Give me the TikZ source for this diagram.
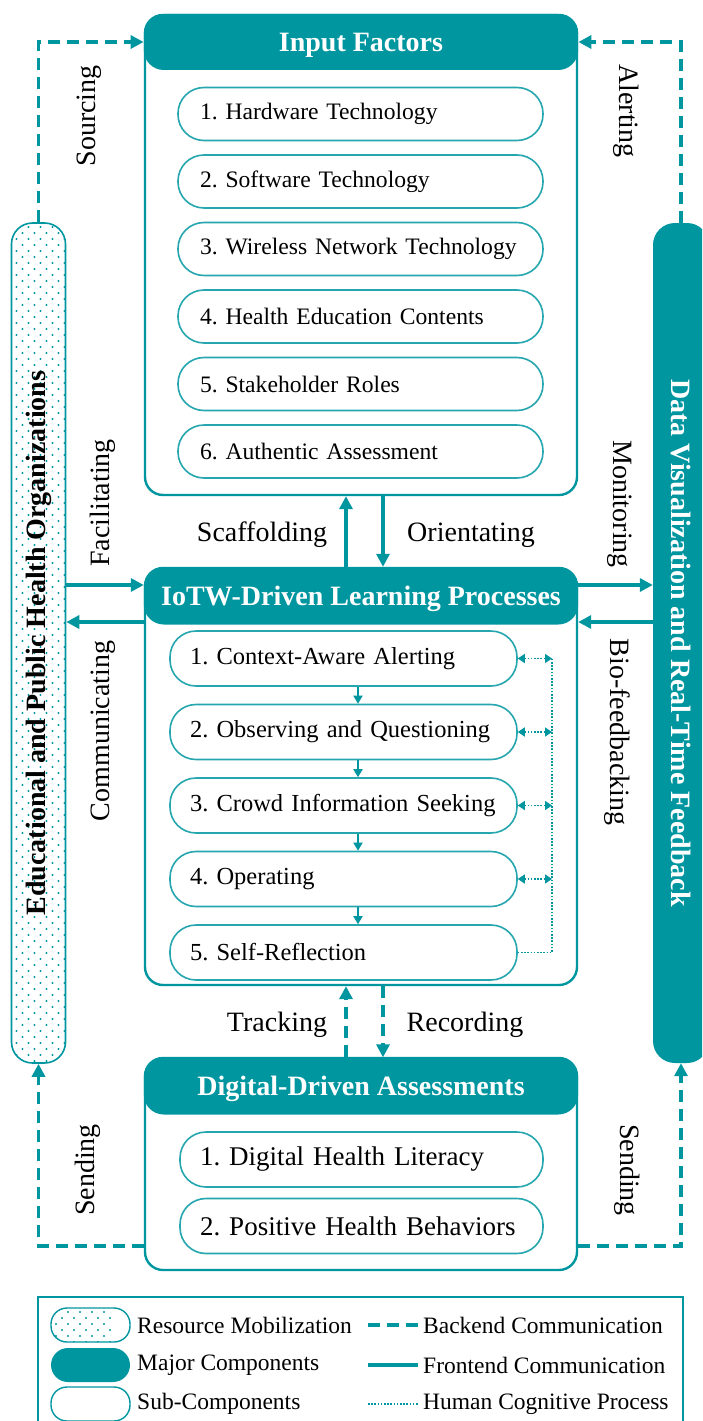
\documentclass[tikz,border=0pt]{standalone}
\usepackage{fontspec}
\setmainfont{Liberation Serif}
\usepackage{graphicx}
\usetikzlibrary{arrows.meta,calc}
\definecolor{tealA}{RGB}{0,150,160}
\newcommand{\sizept}[1]{\fontsize{#1}{#1}\selectfont}
\frenchspacing

\begin{document}
\begin{tikzpicture}[x=1pt,y=-1pt,
  majorbox/.style={draw=tealA, line width=2.4pt, fill=white, rounded corners=18pt, inner sep=0pt, minimum width=432pt},
  headbar/.style={fill=tealA, rounded corners=20pt, inner sep=0pt, minimum width=434.4pt, text=white,
                  text height=20pt, text depth=1pt, font=\sizept{28}\bfseries},
  subbox/.style={draw=tealA!85, line width=1.6pt, fill=white, rounded corners=26pt, inner ysep=0pt, align=left},
  lbl/.style={inner sep=0pt, font=\sizept{28}},
  legtext/.style={inner sep=0pt, anchor=west, font=\sizept{23.5}},
  bigtip/.style={-{Triangle[length=13pt,width=13pt]}},
  frontline/.style={draw=tealA, line width=3.6pt},
  backline/.style={draw=tealA, line width=3.6pt, dash pattern=on 12pt off 7pt},
  cogline/.style={draw=tealA, line width=1.6pt, dash pattern=on 1.6pt off 1.6pt},
  cogtips/.style={{Triangle[length=7pt,width=9pt]}-{Triangle[length=7pt,width=9pt]}},
  steptip/.style={draw=tealA, line width=1.8pt, -{Triangle[length=8pt,width=9pt]}},
  dotfill/.style={path picture={
    \foreach \r in {0,...,140}{
      \pgfmathsetmacro{\off}{mod(\r,2)*6}
      \foreach \c in {0,...,4}{
        \fill[tealA] ($(path picture bounding box.north west)+(\c*12+5+\off,\r*6+4)$) circle (1.1pt);
      }}}},
]
\useasboundingbox (0,0) rectangle (702,1421);
\clip (0,0) rectangle (702,1421);

% helper rows and columns for the connectors
\coordinate (colA) at (346,0);
\coordinate (colB) at (383,0);
\coordinate (colC) at (358,0);
\coordinate (colD) at (552,0);
\coordinate (rowF) at (0,585);
\coordinate (rowC) at (0,622);
\coordinate (rowS) at (0,1246);

% side pillars
\node[draw=tealA, line width=1.6pt, fill=white, rounded corners=21pt, minimum width=54pt,
      minimum height=840pt, inner sep=0pt, dotfill] (org) at (38.5,643)
      {\rotatebox{90}{\sizept{28}\bfseries Educational and Public Health Organizations}};
\node[fill=tealA, rounded corners=22pt, minimum width=56pt, minimum height=840pt,
      inner sep=0pt, text=white] (viz) at (681,643)
      {\rotatebox{-90}{\sizept{28}\bfseries Data Visualization and Real-Time Feedback}};

% input factors
\node[majorbox, minimum height=480pt] (inbox) at (361,255) {};
\node[headbar, minimum height=56pt] (inhead) at (361,42) {Input Factors};
\foreach \t [count=\i] in {1. Hardware Technology, 2. Software Technology,
    3. Wireless Network Technology, 4. Health Education Contents,
    5. Stakeholder Roles, 6. Authentic Assessment}
  \node[subbox, minimum height=53pt, inner xsep=22pt, text width=321pt, font=\sizept{23.6}]
    (in\i) at (360.5,{114+(\i-1)*67.5}) {\mbox{\t}};

% learning processes
\node[majorbox, minimum height=417pt] (mid) at (361,776.5) {};
\node[headbar, minimum height=57pt] (midhead) at (361,596) {IoTW-Driven Learning Processes};
\foreach \t [count=\i] in {1. Context-Aware Alerting, 2. Observing and Questioning,
    3. Crowd Information Seeking, 4. Operating, 5. Self-Reflection}
  \node[subbox, minimum height=55pt, inner xsep=20pt, text width=307pt, font=\sizept{24.5}]
    (lp\i) at (343.5,{658.5+(\i-1)*73.5}) {\mbox{\t}};

% assessments
\node[majorbox, minimum height=212pt] (bot) at (361,1164) {};
\node[headbar, minimum height=57pt] (bothead) at (361,1086) {Digital-Driven Assessments};
\node[subbox, minimum height=55pt, inner xsep=20pt, text width=323pt, font=\sizept{27}]
  (da1) at (361.5,1159.5) {\mbox{1. Digital Health Literacy}};
\node[subbox, minimum height=55pt, inner xsep=20pt, text width=323pt, font=\sizept{27}]
  (da2) at (361.5,1226) {\mbox{2. Positive Health Behaviors}};

% frontend connectors
\draw[frontline, bigtip] (mid.north -| colA) -- (inbox.south -| colA);
\draw[frontline, bigtip] (inbox.south -| colB) -- (mid.north -| colB);
\draw[frontline, bigtip] (org.east |- rowF) -- (mid.west |- rowF);
\draw[frontline, bigtip] (mid.west |- rowC) -- (org.east |- rowC);
\draw[frontline, bigtip] (mid.east |- rowF) -- (viz.west |- rowF);
\draw[frontline, bigtip] (viz.west |- rowC) -- (mid.east |- rowC);

% backend connectors
\draw[backline, bigtip] (org.north) |- (inhead.west);
\draw[backline, bigtip] (viz.north) |- (inhead.east);
\draw[backline, bigtip] (bothead.north -| colA) -- (mid.south -| colA);
\draw[backline, bigtip] (mid.south -| colB) -- (bothead.north -| colB);
\draw[backline, bigtip] (bot.west |- rowS) -| (org.south);
\draw[backline, bigtip] (bot.east |- rowS) -| (viz.south);

% learning steps
\foreach \i/\j in {1/2,2/3,3/4,4/5}
  \draw[steptip] (lp\i.south -| colC) -- (lp\j.north -| colC);

% reflection loop
\foreach \i in {1,...,4}
  \draw[cogline, cogtips] (lp\i.east) -- (lp\i.east -| colD);
\draw[cogline] (lp5.east) -| (lp1.east -| colD);

% connector labels
\node[lbl, rotate=90] (tSourcing) at (89,116) {Sourcing};
\node[lbl, rotate=-90] (tAlerting) at (626,111) {Alerting};
\node[lbl, rotate=90] (tFacil) at (103,503) {Facilitating};
\node[lbl, rotate=90] (tComm) at (103,731) {Communicating};
\node[lbl, rotate=-90] (tMon) at (620,504) {Monitoring};
\node[lbl, rotate=-90] (tBio) at (617,732) {Bio-feedbacking};
\node[lbl] (tScaf) at (262,535) {Scaffolding};
\node[lbl] (tOrie) at (471,535) {Orientating};
\node[lbl] (tTrack) at (277,1025) {Tracking};
\node[lbl] (tRec) at (465,1025) {Recording};
\node[lbl, rotate=90] (tSendL) at (88,1170) {Sending};
\node[lbl, rotate=-90] (tSendR) at (627,1170) {Sending};

% legend
\node[draw=tealA, line width=2pt, minimum width=645pt, minimum height=160pt, inner sep=0pt]
  (legend) at (360.5,1377) {};
\node[draw=tealA, line width=1.4pt, fill=white, rounded corners=16pt, minimum width=79pt,
      minimum height=34pt, inner sep=0pt, dotfill] (lg1) at (90.5,1325) {};
\node[fill=tealA, rounded corners=17pt, minimum width=79pt, minimum height=34pt,
      inner sep=0pt] (lg2) at (90.5,1365) {};
\node[draw=tealA, line width=1.4pt, fill=white, rounded corners=16pt, minimum width=79pt,
      minimum height=34pt, inner sep=0pt] (lg3) at (90.5,1404) {};
\node[legtext] (lt1) at (137,1325) {Resource Mobilization};
\node[legtext] (lt2) at (137,1365) {Major Components};
\node[legtext] (lt3) at (137,1404) {Sub-Components};
\node[legtext] (lt4) at (423,1325) {Backend Communication};
\node[legtext] (lt5) at (423,1365) {Frontend Communication};
\node[legtext] (lt6) at (423,1404) {Human Cognitive Process};
\draw[backline] ([xshift=-55pt]lt4.west) -- ([xshift=-5pt]lt4.west);
\draw[frontline] ([xshift=-55pt]lt5.west) -- ([xshift=-5pt]lt5.west);
\draw[cogline] ([xshift=-55pt]lt6.west) -- ([xshift=-5pt]lt6.west);
\end{tikzpicture}
\end{document}
